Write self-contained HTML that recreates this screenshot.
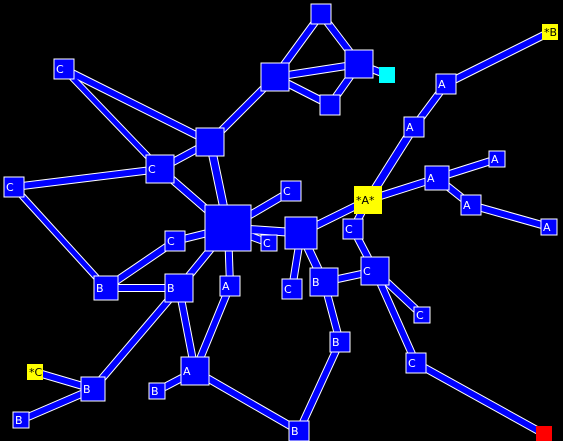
<!DOCTYPE html>
<html><head><meta charset="utf-8"><style>
html,body{margin:0;padding:0;background:#000;width:563px;height:441px;overflow:hidden}
svg{display:block}
text{font-family:"DejaVu Sans","Liberation Sans",sans-serif;font-size:11px}
</style></head><body>
<svg id="g" width="563" height="441"></svg>
<script>
// node data: id, x, y, size, label, kind
const nodeIds=[1,2,3,4,5,6,7,8,9,10,11,12,13,14,15,16,17,18,19,20,21,22,23,24,25,26,27,28,29,30,31,32,33,34,35,36,37,38,39];
const nodeX=[321,275,359,330,387,64,210,160,14,228,291,301,175,269,368,353,106,179,230,292,324,375,422,340,195,35,93,157,21,299,416,544,446,414,437,497,471,549,550];
const nodeY=[14,77,64,105,75,69,142,169,187,228,191,233,241,243,200,229,288,288,286,289,282,271,315,342,371,372,389,391,420,431,363,434,84,127,178,159,205,227,32];
const nodeSize=[20,28,28,20,16,20,28,28,20,46,20,32,20,16,28,20,24,28,20,20,28,28,16,20,28,16,24,16,16,20,20,16,20,20,24,16,20,16,16];
const nodeLabels=["","","","","","C","","C","C","","C","","C","C","*A*","C","B","B","A","C","B","C","C","B","A","*C","B","B","B","B","C","","A","A","A","A","A","A","*B"];
const nodeKind=["n","n","n","n","cyan","n","n","n","n","n","n","n","n","n","yellow","n","n","n","n","n","n","n","n","n","n","yellow","n","n","n","n","n","red","n","n","n","n","n","n","yellow"];
const edgeFrom=[1,1,2,2,3,3,2,6,6,7,8,9,7,8,10,10,10,10,10,13,17,10,12,12,12,15,34,33,15,35,35,37,15,16,21,21,22,22,31,24,25,25,25,18,18,27,27,9];
const edgeTo  =[2,3,3,4,4,5,7,7,8,8,10,8,10,10,11,12,13,14,19,17,18,18,15,20,21,34,33,39,35,36,37,38,16,22,22,24,23,31,32,30,30,19,28,25,27,26,29,17];
const edgeW=[6,6,6,6,6,6,6,6,5,6,6,6,7,6,6,7,6,6,6,6,6,6,6,6,7,7,6,6,6,6,6,6,6,6,6,6,6,6,6,6,6,6,6,6,6,6,6,5];
const NS="http://www.w3.org/2000/svg";
const svg=document.getElementById('g');
function idx(id){return nodeIds.indexOf(id);}
for(let i=0;i<edgeFrom.length;i++){
  const a=idx(edgeFrom[i]),b=idx(edgeTo[i]);
  const o=document.createElementNS(NS,'line');
  
  
  o.setAttribute('x1',nodeX[a]);o.setAttribute('y1',nodeY[a]);o.setAttribute('x2',nodeX[b]);o.setAttribute('y2',nodeY[b]);
  o.setAttribute('stroke','#fff');o.setAttribute('stroke-width',edgeW[i]+2);
  svg.appendChild(o);
}
for(let i=0;i<edgeFrom.length;i++){
  const a=idx(edgeFrom[i]),b=idx(edgeTo[i]);
  const l=document.createElementNS(NS,'line');
  
  
  l.setAttribute('x1',nodeX[a]);l.setAttribute('y1',nodeY[a]);l.setAttribute('x2',nodeX[b]);l.setAttribute('y2',nodeY[b]);
  l.setAttribute('stroke','#0000ff');l.setAttribute('stroke-width',edgeW[i]);
  svg.appendChild(l);
}
for(let i=0;i<nodeIds.length;i++){
  const s=nodeSize[i],k=nodeKind[i];
  const r=document.createElementNS(NS,'rect');
  
  
  r.setAttribute('x',nodeX[i]-s/2);r.setAttribute('y',nodeY[i]-s/2);
  r.setAttribute('width',s);r.setAttribute('height',s);
  const fill=k==='cyan'?'#00ffff':k==='yellow'?'#ffff00':k==='red'?'#ff0000':'#0000ff';
  r.setAttribute('fill',fill);
  if(k==='n'){r.setAttribute('stroke','#fff');r.setAttribute('stroke-width',1);}
  svg.appendChild(r);
  if(nodeLabels[i]){
    const t=document.createElementNS(NS,'text');
    
    
    t.setAttribute('x',nodeX[i]-s/2+2);
    t.setAttribute('y',nodeY[i]+4);
    t.setAttribute('fill',k==='yellow'?'#000':'#fff');
    t.textContent=nodeLabels[i];
    svg.appendChild(t);
  }
}
</script>
</body></html>
